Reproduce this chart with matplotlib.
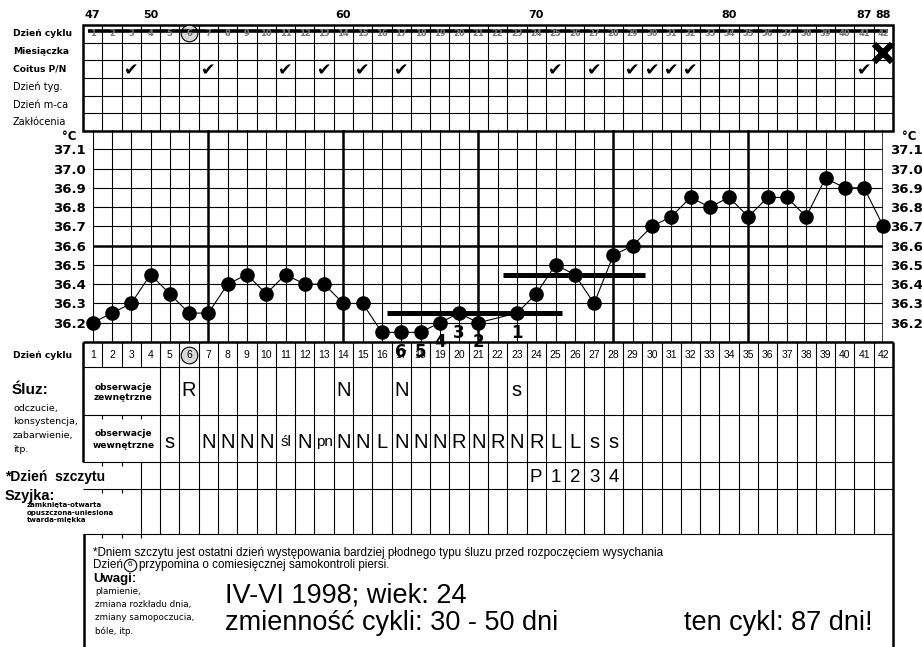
import matplotlib
matplotlib.use("Agg")
import matplotlib.pyplot as plt
from matplotlib.patches import Rectangle
import numpy as np

# ---- values ----
cycle_days = list(range(1, 43))
running_days = [47, 50, 60, 70, 80, 87, 88]   # running count printed above the table

temp_days = [1, 2, 3, 4, 5, 6, 7, 8, 9, 10, 11, 12, 13, 14, 15, 16, 17, 18, 19, 20, 21,
             23, 24, 25, 26, 27, 28, 29, 30, 31, 32, 33, 34, 35, 36, 37, 38, 39, 40, 41, 42]
temps = [36.20, 36.25, 36.30, 36.45, 36.35, 36.25, 36.25, 36.40, 36.45, 36.35, 36.45,
         36.40, 36.40, 36.30, 36.30, 36.15, 36.15, 36.15, 36.20, 36.25, 36.20,
         36.25, 36.35, 36.50, 36.45, 36.30, 36.55, 36.60, 36.70, 36.75, 36.85, 36.80,
         36.85, 36.75, 36.85, 36.85, 36.75, 36.95, 36.90, 36.90, 36.70]

count_days = [17, 18, 19, 20, 21, 23]
count_labels = ['6', '5', '4', '3', '2', '1']

cover_from = [16.25, 22.3]
cover_to = [25.35, 29.65]
cover_temp = [36.25, 36.45]

temp_ticks = [36.2, 36.3, 36.4, 36.5, 36.6, 36.7, 36.8, 36.9, 37.0, 37.1]

coitus_days = [3, 7, 11, 13, 15, 17, 25, 27, 29, 30, 31, 32, 41]
menses_days = [42]
breast_day = 6

ext_days = [6, 14, 17, 23]
ext_marks = ['R', 'N', 'N', 's']
int_days = [5, 7, 8, 9, 10, 11, 12, 13, 14, 15, 16, 17, 18, 19, 20, 21, 22, 23, 24, 25, 26, 27, 28]
int_marks = ['s', 'N', 'N', 'N', 'N', 'śl', 'N', 'pn', 'N', 'N', 'L', 'N', 'N', 'N', 'R',
             'N', 'R', 'N', 'R', 'L', 'L', 's', 's']
peak_days = [24, 25, 26, 27, 28]
peak_marks = ['P', '1', '2', '3', '4']

top_rows = ['Dzień cyklu', 'Miesiączka', 'Coitus P/N', 'Dzień tyg.', 'Dzień m-ca', 'Zakłócenia']

# ---- page layout (pixels) ----
W, H = 922, 647
X0 = 83.0
CW = 810 / 42
NARROW = ['Liberation Sans Narrow', 'DejaVu Sans']
SANS = ['Liberation Sans', 'DejaVu Sans']
THIN, THICK = 0.8, 1.8


def dx(px):
    return (px - X0) / CW + 0.5


fig = plt.figure(figsize=(W / 100, H / 100), dpi=100)
ax = fig.add_axes([0, 0, 1, 1])
ax.set_xlim(dx(0), dx(W))
ax.set_ylim(H, 0)
ax.axis('off')


def hline(y, a, b, lw=THIN):
    ax.plot([a, b], [y, y], color='k', lw=lw, solid_capstyle='butt')


def vline(x, a, b, lw=THIN):
    ax.plot([x, x], [a, b], color='k', lw=lw, solid_capstyle='butt')


edges = np.arange(0.5, 43)

# top table
top_y = np.linspace(25, 131, 7)
for y in top_y[1:-1]:
    hline(y, 0.5, 42.5)
for e in edges[1:-1]:
    vline(e, 25, 131)
ax.add_patch(Rectangle((0.5, 25), 42, 106, fill=False, lw=THICK, ec='k'))
for i, lab in enumerate(top_rows):
    ax.text(dx(13), (top_y[i] + top_y[i + 1]) / 2, lab, family=NARROW,
            fontsize=6.6 if i < 3 else 7, weight='bold' if i < 3 else 'normal', va='center')

for v in running_days:
    ax.text(v - 46, 15, str(v), ha='center', va='center', fontsize=8, weight='bold')

ax.plot(breast_day, 33, 'o', ms=12, mfc='#d8d8d8', mec='k', mew=0.8)
for d in cycle_days:
    ax.text(d, 33.5, str(d), ha='center', va='center', fontsize=6, color='#777',
            weight='bold')
hline(30.6, 0.77, 42.26, lw=2.6)

for d in coitus_days:
    ax.text(d, 70, '✔', ha='center', va='center', fontsize=12.5, family='DejaVu Sans')
ax.plot(menses_days, [53] * len(menses_days), 'x', ms=13, mew=4.5, color='k')

# lower table
low_y = [342, 367, 415, 462, 489, 534]
hline(342, 0.5, 42.5, lw=THICK)
for y in low_y[1:]:
    hline(y, 0.5, 42.5)
for e in edges[:-1]:
    vline(e, 342, 367)
for e in edges[4:-1]:
    vline(e, 367, 462)
for e in edges[3:-1]:
    vline(e, 462, 534)
vline(0.5, 342, 462, lw=THICK)
vline(42.5, 342, H, lw=THICK)
vline(dx(84), 534, H, lw=THICK)
for y in [415, 462, 489, 534]:
    for e in edges[1:4]:
        vline(e, y, y + 4)

ax.plot(breast_day, 355, 'o', ms=12, mfc='#d8d8d8', mec='k', mew=0.8)
for d in cycle_days:
    ax.text(d, 355, str(d), ha='center', va='center', fontsize=7.5, family=SANS)

for y0, y1, word in [(387, 398, 'zewnętrzne'), (434, 446, 'wewnętrzne')]:
    ax.text(2.6, y0, 'obserwacje', ha='center', va='center', fontsize=6.5,
            weight='bold', family=NARROW)
    ax.text(2.6, y1, word, ha='center', va='center', fontsize=6.5,
            weight='bold', family=NARROW)

for d, m in zip(ext_days, ext_marks):
    ax.text(d, 391, m, ha='center', va='center', fontsize=14.5, family=SANS)
for d, m in zip(int_days, int_marks):
    ax.text(d, 442, m, ha='center', va='center', fontsize=14.5 if len(m) == 1 else 11,
            family=SANS)
for d, m in zip(peak_days, peak_marks):
    ax.text(d, 477, m, ha='center', va='center', fontsize=13.5, family=SANS)

# left labels, lower part
ax.text(dx(13), 355, 'Dzień cyklu', family=NARROW, fontsize=6.6, weight='bold', va='center')
ax.text(dx(12), 390, 'Śluz:', family=SANS, fontsize=11, weight='bold', va='center')
for i, s in enumerate(['odczucie,', 'konsystencja,', 'zabarwienie,', 'itp.']):
    ax.text(dx(13), 408 + i * 13.8, s, family=NARROW, fontsize=6.8, va='center')
ax.text(dx(5), 477, '*Dzień  szczytu', family=SANS, fontsize=10, weight='bold', va='center')
ax.text(dx(5), 496, 'Szyjka:', family=SANS, fontsize=10.5, weight='bold', va='center')
for i, s in enumerate(['zamknięta-otwarta', 'opuszczona-uniesiona', 'twarda-miękka']):
    ax.text(dx(27), 505 + i * 7.5, s, family=NARROW, fontsize=5, weight='bold', va='center')

# notes
FN = 8.4
ax.text(dx(93), 553, '*Dniem szczytu jest ostatni dzień występowania bardziej płodnego '
        'typu śluzu przed rozpoczęciem wysychania', family=SANS, fontsize=FN, va='center')
ax.text(dx(93), 565, 'Dzień', family=SANS, fontsize=FN, va='center')
ax.plot(dx(130), 565, 'o', ms=9, mfc='white', mec='k', mew=0.8)
ax.text(dx(130), 565, str(breast_day), ha='center', va='center', fontsize=6, family=SANS)
ax.text(dx(139), 565, 'przypomina o comiesięcznej samokontroli piersi.', family=SANS,
        fontsize=FN, va='center')
ax.text(dx(93), 579, 'Uwagi:', family=SANS, fontsize=9.5, weight='bold', va='center')
for i, s in enumerate(['plamienie,', 'zmiana rozkładu dnia,', 'zmiany samopoczucia,', 'bóle, itp.']):
    ax.text(dx(95), 591 + i * 13.5, s, family=NARROW, fontsize=6.3, va='center')

ax.text(dx(225), 603, 'IV-VI 1998; wiek: 24', family=SANS, fontsize=19.5, va='baseline')
ax.text(dx(225), 630, 'zmienność cykli: 30 - 50 dni', family=SANS, fontsize=19.5, va='baseline')
ax.text(dx(872), 630, 'ten cykl: 87 dni!', family=SANS, fontsize=19.5, va='baseline', ha='right')

ax.text(dx(62), 136, '°C', fontsize=8.5, weight='bold', va='center')
ax.text(dx(902), 136, '°C', fontsize=8.5, weight='bold', va='center')

# temperature grid
p_left = X0 + 0.5 * CW
p_right = X0 + 41.5 * CW
ax_t = fig.add_axes([p_left / W, 1 - 342 / H, (p_right - p_left) / W, 212 / H])
ax_t.set_facecolor('none')
ax_t.set_xlim(1, 42)
ax_t.set_ylim(36.1, 37.2)
for s in ax_t.spines.values():
    s.set_visible(False)
ax_t.set_xticks([])
ax_t.set_yticks(temp_ticks)
ax_t.set_yticklabels([f'{t:.1f}' for t in temp_ticks], fontweight='bold', fontsize=9.5)
ax_t.tick_params(axis='y', left=False, right=False, labelleft=True, labelright=True, pad=1.5)

for d in cycle_days:
    ax_t.axvline(d, color='k', lw=THICK if d % 7 == 0 else THIN, zorder=1)
for t in temp_ticks:
    ax_t.axhline(t, color='k', lw=THICK if abs(t - 36.6) < 1e-6 else THIN, zorder=1)

ax_t.hlines(cover_temp, cover_from, cover_to, color='k', lw=3.6, zorder=3)
ax_t.plot(temp_days, temps, '-', color='k', lw=0.8, zorder=4, clip_on=False)
ax_t.plot(temp_days, temps, 'o', color='k', ms=9.5, zorder=5, clip_on=False)
for d, s in zip(count_days, count_labels):
    t = temps[temp_days.index(d)]
    ax_t.annotate(s, (d, t), xytext=(0, -14), textcoords='offset points', ha='center',
                  va='center', fontsize=12, fontweight='bold', annotation_clip=False, zorder=6)

fig.savefig('out.png', dpi=100)
